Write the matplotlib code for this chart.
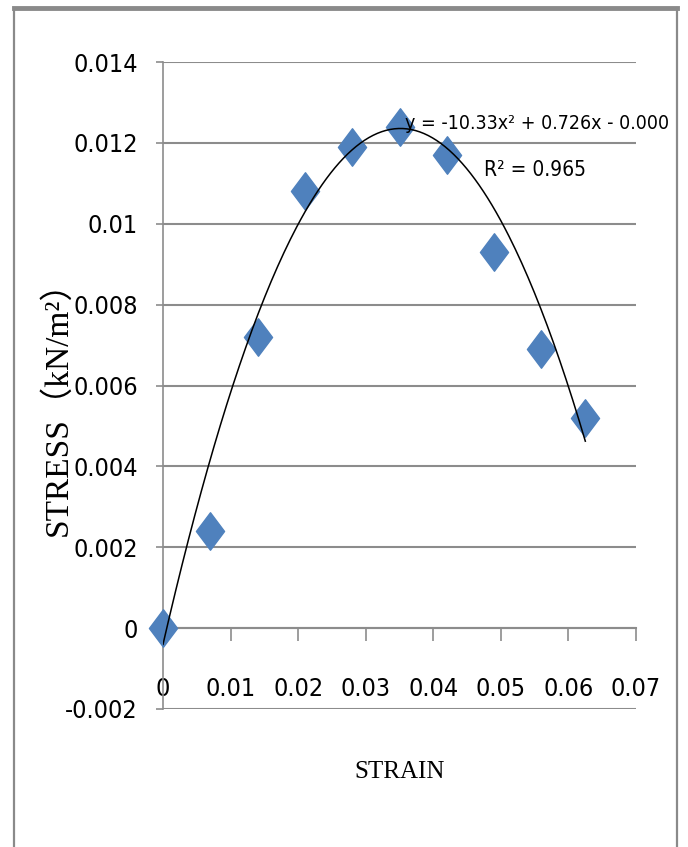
import numpy as np
import matplotlib
matplotlib.use("Agg")
import matplotlib.pyplot as plt
from matplotlib import font_manager
from matplotlib.path import Path
from matplotlib.lines import Line2D

# measured stress-strain points
strain = [0.0, 0.007, 0.014, 0.021, 0.028, 0.035, 0.042, 0.049, 0.056, 0.0625]
stress = [0.0, 0.0024, 0.0072, 0.0108, 0.0119, 0.0124, 0.0117, 0.0093, 0.0069, 0.0052]

# polynomial trendline (order 2) and its fit quality
trend_coef = [-10.33, 0.726, -0.0004]
r_squared = 0.965

x_ticks = [0, 0.01, 0.02, 0.03, 0.04, 0.05, 0.06, 0.07]
x_tick_labels = ["0", "0.01", "0.02", "0.03", "0.04", "0.05", "0.06", "0.07"]
y_ticks = [-0.002, 0, 0.002, 0.004, 0.006, 0.008, 0.01, 0.012, 0.014]
y_tick_labels = ["-0.002", "0", "0.002", "0.004", "0.006", "0.008", "0.01", "0.012", "0.014"]

# pick a narrow sans face if one is installed
faces = font_manager.fontManager.ttflist
names = {f.name for f in faces}
num_font = dict(family=["Liberation Sans", "DejaVu Sans"])
num_size, eq_size = 17, 13
if "Liberation Sans Narrow" in names:
    num_font = dict(family=["Liberation Sans Narrow", "DejaVu Sans"])
    num_size, eq_size = 20, 16
elif any(f.name == "DejaVu Sans" and f.stretch == "condensed" for f in faces):
    num_font = dict(family=["DejaVu Sans"], fontstretch="condensed")
    num_size, eq_size = 18, 14

serif = ["Liberation Serif", "Noto Sans CJK SC", "DejaVu Sans"]
grey = "#8c8c8c"
blue = "#4f81bd"

W, H = 688, 847
fig = plt.figure(figsize=(W / 100, H / 100), dpi=100)
ax = fig.add_axes([163 / W, 1 - 709 / H, (636 - 163) / W, (709 - 62) / H])

ax.set_xlim(0, 0.07)
ax.set_ylim(-0.002, 0.014)

# horizontal gridlines
for yv in y_ticks:
    ax.axhline(yv, color=grey, lw=1.5, zorder=1)

for s in ["top", "right"]:
    ax.spines[s].set_visible(False)
ax.spines["left"].set_color(grey)
ax.spines["left"].set_linewidth(1.2)
ax.spines["bottom"].set_position(("data", 0))
ax.spines["bottom"].set_color(grey)
ax.spines["bottom"].set_linewidth(1.5)

ax.set_xticks(x_ticks)
ax.set_xticklabels(x_tick_labels, fontsize=num_size, **num_font)
ax.set_yticks(y_ticks)
ax.set_yticklabels(y_tick_labels, fontsize=num_size, **num_font)
ax.tick_params(axis="x", direction="out", length=9, width=1.2, color=grey, pad=26)
ax.tick_params(axis="y", direction="out", length=5, width=1.2, color=grey, pad=13)

# tall diamond marker
diamond = Path([(0, 1), (0.75, 0), (0, -1), (-0.75, 0), (0, 1)],
               [Path.MOVETO, Path.LINETO, Path.LINETO, Path.LINETO, Path.CLOSEPOLY])
ax.plot(strain, stress, linestyle="none", marker=diamond, markersize=27,
        color=blue, markeredgecolor=blue, zorder=3, clip_on=False)

xs = np.linspace(min(strain), max(strain), 200)
ax.plot(xs, np.polyval(trend_coef, xs), color="black", lw=1.1, zorder=4)

a, b, c = trend_coef
eq = "y = %.2fx² + %.3fx - %.3f" % (a, b, abs(c))
ax.text(0.0358, 0.01249, eq, fontsize=eq_size, va="center", ha="left",
        clip_on=False, zorder=5, **num_font)
ax.text(0.0475, 0.01132, "R² = %.3f" % r_squared, fontsize=eq_size + 1,
        va="center", ha="left", zorder=5, **num_font)

fig.text(58 / W, 1 - 400 / H, "STRESS（kN/m²）", family=serif, fontsize=24,
         rotation=90, ha="center", va="center")
fig.text(400 / W, 1 - 772 / H, "STRAIN", family=serif, fontsize=18,
         ha="center", va="center")

# chart-area frame (open at the bottom)
fig.add_artist(Line2D([14 / W, 14 / W], [0, 1 - 8 / H], color="#8a8a8a", lw=1.6))
fig.add_artist(Line2D([677 / W, 677 / W], [0, 1 - 8 / H], color="#8a8a8a", lw=1.6))
fig.add_artist(Line2D([14 / W, 677 / W], [1 - 8 / H, 1 - 8 / H], color="#8a8a8a", lw=3.5))

fig.savefig("out.png", dpi=100)
